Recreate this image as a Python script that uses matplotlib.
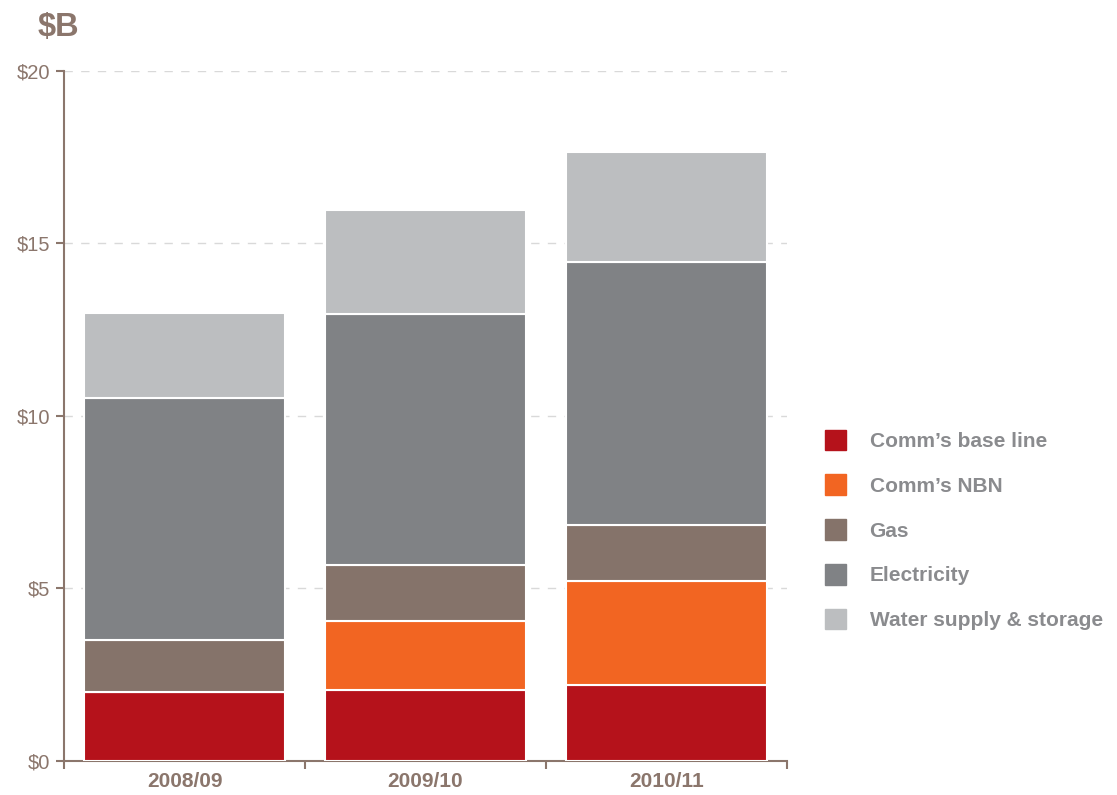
import matplotlib.pyplot as plt
import numpy as np

plt.rcParams['font.family'] = ['Liberation Sans', 'DejaVu Sans']

years = ['2008/09', '2009/10', '2010/11']
series = ['Comm\u2019s base line', 'Comm\u2019s NBN', 'Gas', 'Electricity',
          'Water supply & storage']
base_line = [2.00, 2.06, 2.20]
nbn = [0.00, 2.00, 3.02]
gas = [1.51, 1.62, 1.62]
electricity = [7.01, 7.28, 7.62]
water = [2.47, 3.01, 3.19]
colors = ['#B5121B', '#F26522', '#85736A', '#808285', '#BCBEC0']

tick_col = '#8B766C'
legend_col = '#8A8B8E'

fig = plt.figure(figsize=(11.17, 7.95), dpi=100)
ax = fig.add_axes([0.0573, 0.0428, 0.6473, 0.8679])

x = np.arange(len(years))
bottom = np.zeros(len(years))
handles = []
for vals, name, col in zip([base_line, nbn, gas, electricity, water], series, colors):
    vals = np.array(vals)
    ax.bar(x, vals, 0.835, bottom=bottom, color=col, edgecolor='white',
           linewidth=1.5, zorder=3)
    bottom += vals
    handles.append(plt.Rectangle((0, 0), 1, 1, color=col, label=name))

ax.set_xlim(-0.5, 2.5)
ax.set_ylim(0, 20)
ax.set_yticks([0, 5, 10, 15, 20])
ax.set_yticklabels(['$0', '$5', '$10', '$15', '$20'])
ax.yaxis.grid(True, color='#D9D9D9', linestyle=(0, (6, 6)), linewidth=1, zorder=0)

ax.set_xticks([-0.5, 0.5, 1.5, 2.5])
ax.set_xticklabels([])
ax.set_xticks(x, minor=True)
ax.set_xticklabels(years, minor=True, fontsize=15, fontweight='bold', color=tick_col)
ax.tick_params(axis='x', which='minor', length=0, pad=8)
ax.tick_params(axis='x', which='major', length=6, width=1.5, color=tick_col)
ax.tick_params(axis='y', length=6, width=1.5, color=tick_col, labelcolor=tick_col,
               labelsize=14.5, pad=4)

for s in ['top', 'right']:
    ax.spines[s].set_visible(False)
for s in ['left', 'bottom']:
    ax.spines[s].set_color(tick_col)
    ax.spines[s].set_linewidth(1.5)

fig.text(0.034, 0.965, '$B', fontsize=23.5, fontweight='bold', color=tick_col,
         va='center')

leg = fig.legend(handles=handles, loc='upper left', bbox_to_anchor=(0.7216, 0.483),
                 frameon=False, handlelength=1.0, handleheight=1.15,
                 handletextpad=1.15, labelspacing=1.12,
                 prop={'size': 15, 'weight': 'bold'})
for t in leg.get_texts():
    t.set_color(legend_col)

fig.savefig('out.png', dpi=100)
